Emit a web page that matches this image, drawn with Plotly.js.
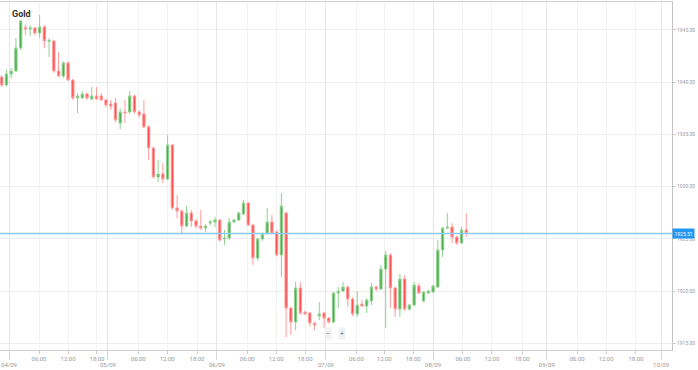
<!DOCTYPE html>
<html><head><meta charset="utf-8">
<script src="https://cdn.plot.ly/plotly-3.0.1.min.js"></script>
<style>html,body{margin:0;padding:0;background:#fff;}#chart{width:698px;height:370px;}</style>
</head><body><div id="chart"></div>
<script>
const seriesName = 'Gold';
const openPrices = [1940.50,1939.73,1940.79,1941.07,1943.28,1945.24,1945.10,1945.19,1944.71,1945.29,
1943.90,1943.95,1941.07,1940.59,1941.84,1940.21,1938.49,1938.49,1938.87,1938.39,
1938.68,1938.68,1938.29,1937.91,1938.01,1936.09,1937.15,1937.15,1938.68,1937.15,
1936.95,1935.71,1933.70,1930.92,1931.21,1930.73,1933.98,1927.95,1927.66,1926.22,
1927.47,1926.70,1926.22,1926.03,1926.51,1926.61,1926.80,1924.98,1925.07,1926.61,
1926.80,1927.37,1928.43,1926.32,1923.16,1924.98,1925.55,1926.61,1925.65,1923.45,
1927.47,1918.37,1917.03,1920.29,1917.99,1917.89,1916.93,1917.60,1917.89,1917.41,
1917.03,1919.81,1920.00,1920.38,1919.23,1917.80,1918.75,1918.56,1919.04,1920.38,
1920.19,1922.11,1923.45,1920.29,1918.27,1921.15,1918.27,1918.66,1920.48,1919.04,
1919.81,1919.90,1920.38,1923.93,1926.03,1926.13,1925.17,1924.60,1925.84];
const highPrices = [1940.69,1941.17,1941.36,1944.23,1945.96,1945.50,1945.48,1945.30,1946.44,1945.48,
1944.23,1944.00,1942.89,1942.00,1942.00,1940.30,1938.97,1939.16,1939.00,1939.54,
1939.54,1938.97,1938.40,1938.29,1938.50,1937.50,1938.30,1939.16,1938.80,1937.30,
1938.29,1935.90,1933.80,1932.55,1932.26,1934.94,1934.10,1929.19,1927.80,1928.14,
1927.76,1926.90,1927.76,1926.40,1926.80,1927.09,1926.90,1925.84,1926.99,1926.90,
1927.60,1928.72,1928.50,1926.40,1925.10,1925.60,1927.95,1927.28,1925.80,1929.39,
1927.60,1918.50,1920.86,1920.86,1918.10,1918.00,1917.00,1918.94,1918.00,1917.50,
1919.90,1920.38,1920.86,1920.50,1919.40,1920.00,1919.14,1919.30,1920.77,1920.50,
1922.49,1923.83,1923.60,1920.40,1921.63,1921.53,1918.80,1920.86,1920.77,1920.00,
1920.10,1920.60,1924.88,1926.10,1927.47,1926.51,1925.30,1926.13,1927.47];
const lowPrices = [1939.54,1939.63,1940.40,1940.98,1943.08,1944.50,1944.43,1944.50,1944.23,1943.28,
1942.41,1940.90,1940.50,1940.40,1940.10,1938.30,1937.05,1938.39,1938.30,1938.29,
1938.30,1938.20,1937.60,1937.34,1936.20,1935.50,1936.10,1937.00,1937.00,1936.60,
1935.60,1932.55,1930.80,1930.44,1930.34,1930.60,1927.80,1926.99,1925.55,1926.10,
1926.13,1926.00,1925.84,1925.65,1926.30,1926.13,1924.70,1924.41,1924.90,1926.50,
1926.70,1927.30,1926.20,1922.50,1922.90,1924.80,1925.40,1925.40,1923.30,1921.34,
1915.59,1915.78,1916.26,1917.70,1917.70,1916.60,1916.26,1917.22,1916.45,1916.90,
1916.90,1918.37,1919.90,1918.47,1917.60,1917.51,1918.47,1917.89,1918.66,1920.00,
1920.10,1916.45,1918.37,1917.51,1917.51,1918.10,1918.10,1918.50,1919.70,1918.90,
1919.70,1919.80,1920.30,1923.26,1925.90,1924.60,1924.40,1924.50,1925.17];
const closePrices = [1939.73,1940.79,1941.07,1943.28,1945.86,1945.10,1945.20,1944.71,1945.29,1943.95,
1943.98,1941.07,1940.59,1941.84,1940.21,1938.49,1938.68,1938.87,1938.49,1938.68,
1938.39,1938.29,1937.82,1937.72,1936.38,1937.15,1937.05,1938.68,1937.15,1936.86,
1935.71,1933.70,1930.92,1931.21,1930.73,1933.98,1927.95,1927.66,1926.22,1927.47,
1926.70,1926.22,1926.03,1926.22,1926.61,1926.80,1924.88,1925.07,1926.61,1926.80,
1927.47,1928.43,1926.32,1923.16,1924.98,1925.46,1926.61,1925.55,1923.45,1928.14,
1918.37,1917.03,1920.29,1917.89,1917.80,1916.93,1916.74,1917.80,1917.41,1917.03,
1919.81,1920.00,1920.38,1919.23,1917.80,1918.66,1918.56,1919.14,1920.38,1920.19,
1922.11,1923.45,1920.29,1918.27,1921.15,1918.27,1918.66,1920.57,1919.81,1919.90,
1920.00,1920.48,1923.93,1926.03,1926.13,1925.17,1924.60,1925.84,1925.51];

const timeTickPos = [7.87,14.0,20.1, 28.8,34.9,41.2, 51.8,57.9,64.0, 74.8,80.7,86.8, 97.3,103.4,109.8, 121.4,127.5,133.8];
const timeTickLabels = ['06:00','12:00','18:00','06:00','12:00','18:00','06:00','12:00','18:00',
  '06:00','12:00','18:00','06:00','12:00','18:00','06:00','12:00','18:00'];
const dateTickPos = [1.54,22.4,45.4,68.4,91.0,115.0,139.1];
const dateTickLabels = ['04/09','05/09','06/09','07/09','08/09','09/09','10/09'];

const candleIndex = openPrices.map((_, i) => i);
const lastPrice = closePrices[closePrices.length - 1];

const trace = {
  type: 'candlestick', name: seriesName,
  x: candleIndex, open: openPrices, high: highPrices, low: lowPrices, close: closePrices,
  increasing: {line: {color: '#8fd18f', width: 1}, fillcolor: '#4cae4c'},
  decreasing: {line: {color: '#ff9a9a', width: 1}, fillcolor: '#ff4f4f'},
  whiskerwidth: 0, hoverinfo: 'none', showlegend: false, xaxis: 'x', yaxis: 'y'
};
const dateTrace = {type: 'scatter', x: [dateTickPos[0]], y: [lastPrice], xaxis: 'x2', yaxis: 'y',
  mode: 'markers', marker: {opacity: 0}, showlegend: false, hoverinfo: 'none'};

const layout = {
  width: 698, height: 370,
  margin: {l: 0, r: 26, t: 2, b: 20},
  paper_bgcolor: '#ffffff', plot_bgcolor: '#ffffff',
  showlegend: false,
  xaxis: {
    range: [-0.36, 141.4], tickmode: 'array', tickvals: timeTickPos, ticktext: timeTickLabels,
    ticks: 'outside', ticklen: 3, tickcolor: '#cccccc',
    tickfont: {family: 'Roboto, Arial, sans-serif', size: 6, color: '#999999'},
    showgrid: true, gridcolor: '#f3f3f3', zeroline: false,
    showline: true, linecolor: '#cfcfcf', mirror: true,
    rangeslider: {visible: false}, fixedrange: true
  },
  xaxis2: {
    overlaying: 'x', matches: 'x', side: 'bottom', anchor: 'y',
    tickmode: 'array', tickvals: dateTickPos, ticktext: dateTickLabels,
    ticks: 'outside', ticklen: 9, tickcolor: '#d6d6d6',
    tickfont: {family: 'Roboto, Arial, sans-serif', size: 6, color: '#999999'},
    showgrid: true, gridcolor: '#e6e6e6', zeroline: false, showline: false
  },
  yaxis: {
    side: 'right', range: [1914.35, 1947.68], dtick: 5, tick0: 1915, tickformat: '.2f',
    ticks: 'outside', ticklen: 3, tickcolor: '#cccccc',
    tickfont: {family: 'Roboto, Arial, sans-serif', size: 5, color: '#999999'},
    showgrid: true, gridcolor: '#eeeeee', zeroline: false,
    showline: true, linecolor: '#c4c4c4', fixedrange: true
  },
  shapes: [{type: 'line', xref: 'paper', x0: 0, x1: 1, yref: 'y', y0: lastPrice, y1: lastPrice,
    layer: 'above', line: {color: '#8ccbf3', width: 1.5}}],
  annotations: [
    {text: '<b>' + seriesName + '</b>', xref: 'paper', yref: 'paper', x: 0.015, y: 0.966,
     xanchor: 'left', yanchor: 'middle', showarrow: false,
     font: {family: 'Roboto, Arial, sans-serif', size: 9, color: '#333333'}},
    {text: lastPrice.toFixed(2), xref: 'paper', yref: 'y', x: 1, y: lastPrice,
     xanchor: 'left', yanchor: 'middle', showarrow: false, bgcolor: '#2196f3', borderpad: 1.5,
     font: {family: 'Roboto, Arial, sans-serif', size: 5, color: '#ffffff'}},
    {text: '−', xref: 'paper', yref: 'paper', x: 0.488, y: 0.029, showarrow: false,
     bgcolor: '#f2f2f2', borderpad: 1, font: {size: 7, color: '#555555'}},
    {text: '+', xref: 'paper', yref: 'paper', x: 0.509, y: 0.029, showarrow: false,
     bgcolor: '#f2f2f2', borderpad: 1, font: {size: 7, color: '#555555'}}
  ]
};
Plotly.newPlot('chart', [trace, dateTrace], layout, {displayModeBar: false, staticPlot: true});
</script></body></html>
